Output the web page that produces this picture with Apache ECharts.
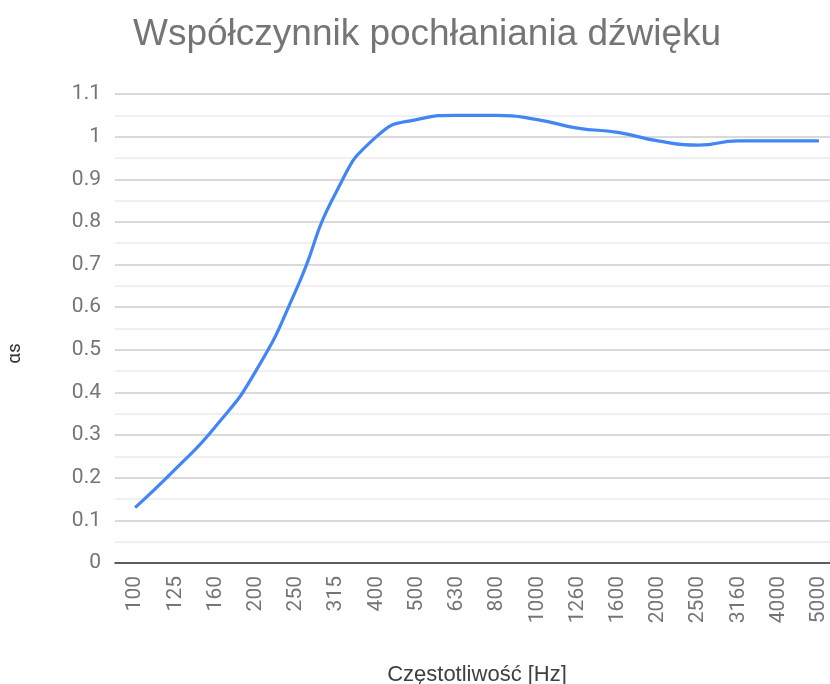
<!DOCTYPE html>
<html>
<head>
<meta charset="utf-8">
<script src="https://cdn.jsdelivr.net/npm/echarts@6/dist/echarts.min.js"></script>
<style>html,body{margin:0;padding:0;background:#fff}#c{width:830px;height:684px}</style>
</head>
<body>
<div id="c"></div>
<script>
const categories = ['100','125','160','200','250','315','400','500','630','800','1000','1260','1600','2000','2500','3160','4000','5000'];
const alphaValues = [0.13,0.22,0.32,0.45,0.64,0.87,1.0,1.04,1.05,1.05,1.04,1.02,1.01,0.99,0.98,0.99,0.99,0.99];
const yTicks = {min:0, max:1.1, interval:0.1};
const titleText = 'Współczynnik pochłaniania dźwięku';
const xName = 'Częstotliwość [Hz]';
const yName = 'αs';

const chart = echarts.init(document.getElementById('c'));
chart.setOption({
  animation:false,
  backgroundColor:'#fff',
  title:{text:titleText,left:128,top:11,textStyle:{fontFamily:'Liberation Sans',fontSize:37,fontWeight:'normal',color:'#757575'}},
  grid:{left:115,right:-9,top:94,bottom:121,containLabel:false,outerBoundsMode:'none'},
  xAxis:{
    type:'category',data:categories,boundaryGap:true,
    name:xName,nameLocation:'middle',nameGap:101,
    nameTextStyle:{fontFamily:'Liberation Sans',fontSize:22,color:'#404040'},
    axisLine:{lineStyle:{color:'#333',width:1.5}},
    axisTick:{show:false},
    axisLabel:{rotate:90,margin:13,fontFamily:'Roboto',fontSize:21,color:'#757575',interval:0}
  },
  yAxis:{
    type:'value',min:yTicks.min,max:yTicks.max,interval:yTicks.interval,
    name:yName,nameLocation:'middle',nameGap:90,nameRotate:90,
    nameTextStyle:{fontFamily:'Roboto',fontSize:19,color:'#333',padding:[0,50,0,0]},
    axisLine:{show:false},axisTick:{show:false},
    axisLabel:{margin:14,fontFamily:'Roboto',fontSize:21,color:'#757575',formatter:v=>String(Math.round(v*10)/10)},
    splitLine:{lineStyle:{color:'#cccccc',width:1.5}},
    minorTick:{show:false,splitNumber:2},
    minorSplitLine:{show:true,lineStyle:{color:'#ebebeb',width:1.5}}
  },
  series:[{type:'line',data:alphaValues,smooth:0.55,symbol:'none',lineStyle:{color:'#4285F4',width:3.2}}]
});
</script>
</body>
</html>
